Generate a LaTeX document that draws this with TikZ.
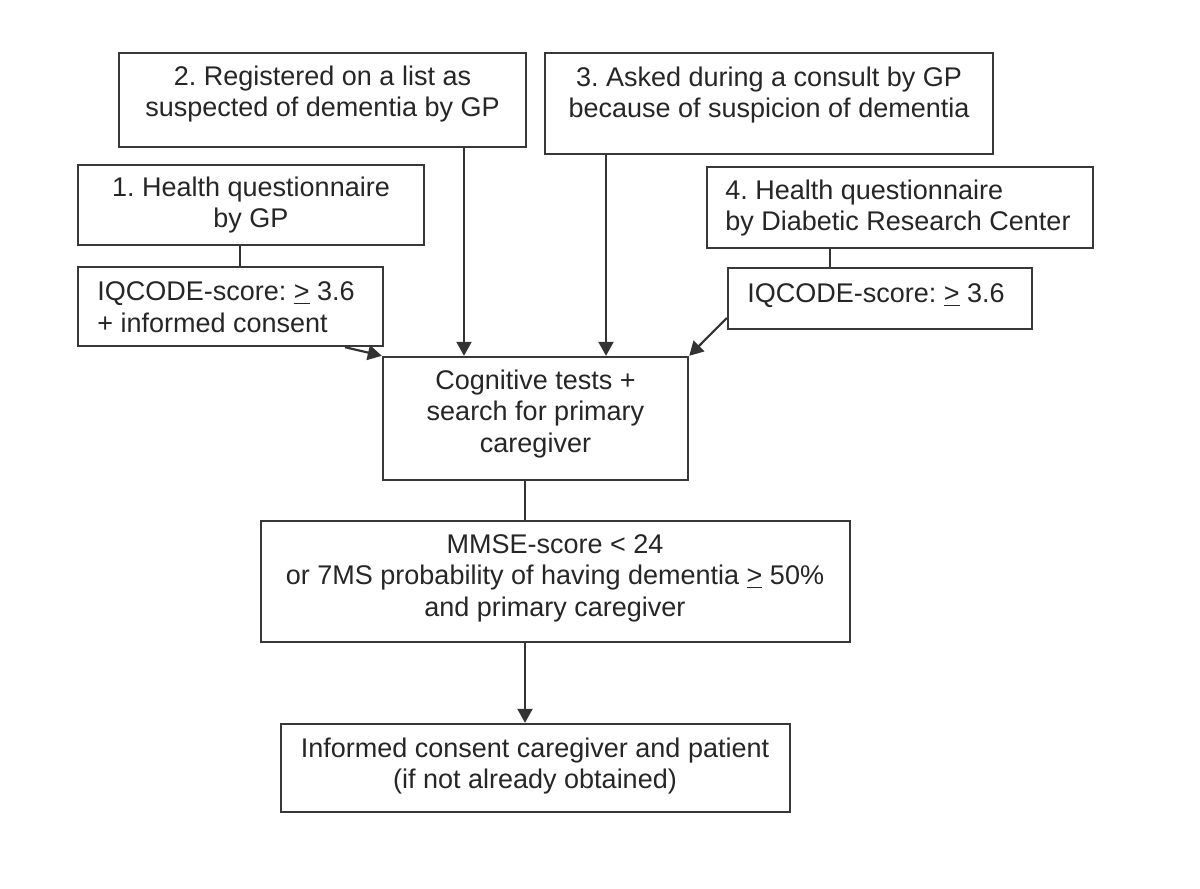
\documentclass[tikz,border=0pt]{standalone}
\usepackage{fontspec}
\setmainfont{Liberation Sans}
\usetikzlibrary{arrows.meta,fit}
\frenchspacing
\begin{document}
\begin{tikzpicture}[x=0.5pt,y=-0.5pt,
  box/.style={draw=black!78, line width=1.2pt, inner sep=0pt},
  txt/.style={font=\fontsize{13.5pt}{15.75pt}\selectfont, text=black!85, align=center, inner sep=0pt},
  lt/.style={txt, align=left},
  conn/.style={draw=black!80, line width=1.1pt},
  arr/.style={conn, -{Triangle[length=7pt,width=7.5pt]}}]
\fill[white] (0,0) rectangle (1200,889);
\useasboundingbox (0,0) rectangle (1200,889);
% boxes
\node[box, fit={(119,53)(526,147)}] (b2) {};
\node[box, fit={(545,53)(993,154)}] (b3) {};
\node[box, fit={(78,165)(424,245)}] (b1) {};
\node[box, fit={(707,167)(1093,248)}] (b4) {};
\node[box, fit={(78,267)(383,346)}] (iq1) {};
\node[box, fit={(728,268)(1032,329)}] (iq4) {};
\node[box, fit={(383,357)(688,480)}] (cog) {};
\node[box, fit={(261,521)(850,642)}] (mmse) {};
\node[box, fit={(281,724)(790,812)}] (fin) {};
% texts
\node[txt] (t2) at (322.5,94) {2. Registered on a list as\\suspected of dementia by GP};
\node[txt] (t3) at (769,95) {3. Asked during a consult by GP\\because of suspicion of dementia};
\node[txt] (t1) at (251,205) {1. Health questionnaire\\by GP};
\node[lt, anchor=west] (t4) at (725,208) {4. Health questionnaire\\by Diabetic Research Center};
\node[lt, anchor=west] (tq1) at (97,307) {IQCODE-score: \underline{>} 3.6\\+ informed consent};
\node[lt, anchor=west] (tq4) at (747,296) {IQCODE-score: \underline{>} 3.6};
\node[txt] (tc) at (535.5,414) {Cognitive tests +\\search for primary\\caregiver};
\node[txt] (tm) at (555,578) {MMSE-score < 24\\or 7MS probability of having dementia \underline{>} 50\%\\and primary caregiver};
\node[txt] (tf) at (535,766) {Informed consent caregiver and patient\\(if not already obtained)};
% connector columns
\coordinate (k1) at (240,0);
\coordinate (k2) at (464,0);
\coordinate (k3) at (606,0);
\coordinate (k4) at (830,0);
\coordinate (k5) at (525,0);
\coordinate (k6) at (345,0);
\coordinate (k7) at (0,318);
% connectors
\draw[conn] (b1.south -| k1) -- (iq1.north -| k1);
\draw[conn] (b4.south -| k4) -- (iq4.north -| k4);
\draw[arr] (b2.south -| k2) -- (cog.north -| k2);
\draw[arr] (b3.south -| k3) -- (cog.north -| k3);
\draw[arr] (iq1.south -| k6) -- (cog.north west);
\draw[arr] (iq4.west |- k7) -- (cog.north east);
\draw[conn] (cog.south -| k5) -- (mmse.north -| k5);
\draw[arr] (mmse.south -| k5) -- (fin.north -| k5);
\end{tikzpicture}
\end{document}
